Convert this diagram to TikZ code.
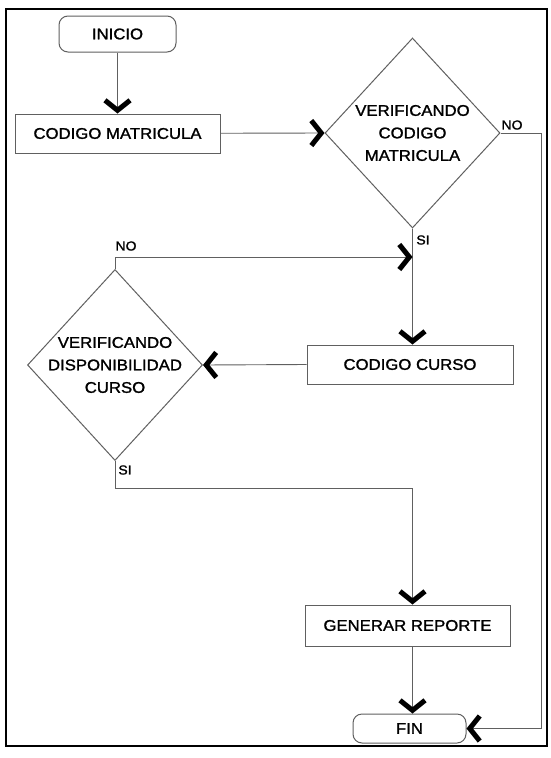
\documentclass[tikz,border=0pt]{standalone}
\usepackage{fontspec}
\setmainfont{Liberation Sans}[FakeStretch=1.08, FakeBold=1.4]
\usetikzlibrary{shapes.geometric,arrows.meta}
\begin{document}
\begin{tikzpicture}[x=1pt,y=-1pt,
  conn/.style={draw=gray!75!black, line width=0.9pt},
  arr/.style={conn, -{Straight Barb[length=10pt,width=25pt,line width=5pt,color=black]}},
  box/.style={draw=gray!75!black, line width=1pt, inner sep=0pt, font=\fontsize{15.5}{18}\selectfont},
  term/.style={box, rounded corners=9pt},
  dec/.style={draw=gray!75!black, line width=1pt, shape=diamond, inner sep=0pt, aspect=1},
  dtext/.style={align=center, font=\fontsize{15.5}{22.5}\selectfont},
  lab/.style={font=\fontsize{13}{15}\selectfont, inner sep=0pt}
]
\useasboundingbox (0,0) rectangle (550,758);
\fill[white] (0,0) rectangle (550,758);
\draw[line width=2.2pt, black] (6,9) rectangle (547,746);

\node[term, minimum width=117pt, minimum height=36pt] (ini) at (117.5,34) {INICIO};
\node[box, minimum width=205pt, minimum height=39pt] (cm) at (117.5,133.5) {CODIGO MATRICULA};
\node[dec, minimum width=175pt, minimum height=190pt,
      label={[dtext]center:VERIFICANDO\\CODIGO\\MATRICULA}] (d1) at (412.5,133) {};
\node[box, minimum width=206pt, minimum height=39pt] (cc) at (410,364.5) {CODIGO CURSO};
\node[dec, minimum width=175pt, minimum height=191pt,
      label={[dtext]center:VERIFICANDO\\DISPONIBILIDAD\\CURSO}] (d2) at (115,365) {};
\node[box, minimum width=205pt, minimum height=41pt] (gr) at (407.5,625.5) {GENERAR REPORTE};
\node[term, minimum width=113pt, minimum height=29pt] (fin) at (409.5,728.5) {FIN};

\coordinate (r1) at (541,133);
\coordinate (j1) at (412.5,257);
\coordinate (j2) at (412.5,488);

\draw[arr] (ini) -- (cm);
\draw[arr] (cm) -- (d1.west);
\draw[arr] (d1.east) -- (r1) |- (fin.east);
\draw[arr] (d1.south) -- (d1.south |- cc.north);
\draw[arr] (d2.north) |- (j1);
\draw[arr] (cc.west) -- (d2.east);
\draw[arr] (d2.south) |- (j2) -- (j2 |- gr.north);
\draw[arr] (j2 |- gr.south) -- (j2 |- fin.north);

\node[lab] (no1) at (512,125) {NO};
\node[lab] (si1) at (423,240) {SI};
\node[lab] (no2) at (126,246) {NO};
\node[lab] (si2) at (125,470) {SI};
\end{tikzpicture}
\end{document}
